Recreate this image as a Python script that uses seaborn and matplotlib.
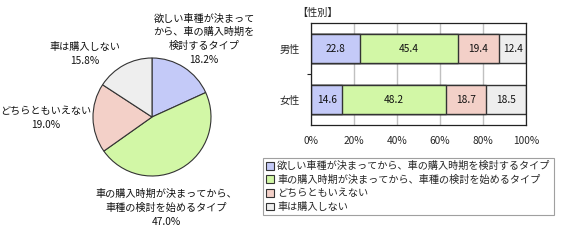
import matplotlib
matplotlib.use("Agg")
import matplotlib.pyplot as plt
import seaborn as sns
import numpy as np
import pandas as pd
from matplotlib.patches import Patch

sns.set_theme(style="white")
plt.rcParams['font.family'] = ['Noto Sans CJK JP', 'DejaVu Sans']

# ---- data ----
types = ["欲しい車種が決まってから、車の購入時期を検討するタイプ",
         "車の購入時期が決まってから、車種の検討を始めるタイプ",
         "どちらともいえない",
         "車は購入しない"]
pie_labels = ["欲しい車種が決まって\nから、車の購入時期を\n検討するタイプ",
              "車の購入時期が決まってから、\n車種の検討を始めるタイプ",
              "どちらともいえない",
              "車は購入しない"]
pie_values = [18.2, 47.0, 19.0, 15.8]
genders = ["男性", "女性"]
male_values = [22.8, 45.4, 19.4, 12.4]
female_values = [14.6, 48.2, 18.7, 18.5]
x_ticks = [0, 20, 40, 60, 80, 100]
bar_title = "【性別】"

colors = ["#c4caf8", "#d2f7a6", "#f3d0c8", "#eeeeee"]
edge = "#333333"

W, H = 569, 240
fig = plt.figure(figsize=(W / 100, H / 100), dpi=100)

def fx(px):
    return px / W

def fy(py):
    return 1 - py / H

# ---- pie ----
cx, cy, r = 152, 117, 59
axp = fig.add_axes([fx(cx - r), fy(cy + r), 2 * r / W, 2 * r / H])
axp.pie(pie_values, colors=colors, startangle=90, counterclock=False,
        wedgeprops=dict(edgecolor=edge, linewidth=0.8))
axp.set_xlim(-1, 1)
axp.set_ylim(-1, 1)
axp.set_aspect("auto")
axp.axis("off")

fs = 7.3
label_pos = [(204, 39), (166, 208), (46, 118), (85, 54)]
for lab, val, (px, py) in zip(pie_labels, pie_values, label_pos):
    fig.text(fx(px), fy(py), f"{lab}\n{val:.1f}%", ha="center", va="center",
             fontsize=fs, linespacing=1.45, color="#111111")

# ---- stacked bar ----
axb = fig.add_axes([fx(311), fy(125), 215 / W, 102 / H])
rows = []
for g, vals in zip(genders, [male_values, female_values]):
    cum = np.cumsum(vals)
    for t, v, c in zip(types, vals, cum):
        rows.append(dict(gender=g, type=t, value=v, cum=c))
df = pd.DataFrame(rows)

for t, col in reversed(list(zip(types, colors))):
    sub = df[df["type"] == t]
    sns.barplot(data=sub, x="cum", y="gender", order=genders, orient="h",
                color=col, edgecolor=edge, linewidth=1.0, width=0.57,
                saturation=1, ax=axb)

for _, row in df.iterrows():
    yi = genders.index(row["gender"])
    axb.text(row["cum"] - row["value"] / 2, yi, f"{row['value']:.1f}",
             ha="center", va="center", fontsize=fs, color="#111111")

axb.set_xlim(0, 100)
axb.set_ylim(1.5, -0.5)
axb.set_xticks(x_ticks)
axb.set_xticklabels([f"{v}%" for v in x_ticks], fontsize=fs)
axb.set_xlabel("")
axb.set_ylabel("")
axb.tick_params(axis="x", length=0, pad=8)
axb.tick_params(axis="y", length=0, pad=8, labelsize=fs)
axb.set_yticks([0.5], minor=True)
axb.tick_params(axis="y", which="minor", length=3, width=0.8, color="#222222", left=True)
axb.grid(axis="x", color="#c0c0c0", linewidth=1.0)
axb.set_axisbelow(True)
for s in axb.spines.values():
    s.set_color("#222222")
    s.set_linewidth(0.9)

fig.text(fx(297), fy(13), bar_title, ha="left", va="center", fontsize=fs)

# ---- legend ----
handles = [Patch(facecolor=c, edgecolor=edge, linewidth=0.8) for c in colors]
leg = fig.legend(handles, types, loc="upper left",
                 bbox_to_anchor=(fx(263), fy(158)), fontsize=fs,
                 frameon=True, fancybox=False, handlelength=0.8, handleheight=0.8,
                 handletextpad=0.3, labelspacing=0.35, borderpad=0.3,
                 borderaxespad=0)
leg.get_frame().set_edgecolor("#888888")
leg.get_frame().set_linewidth(0.8)

fig.savefig("out.png", dpi=100)
